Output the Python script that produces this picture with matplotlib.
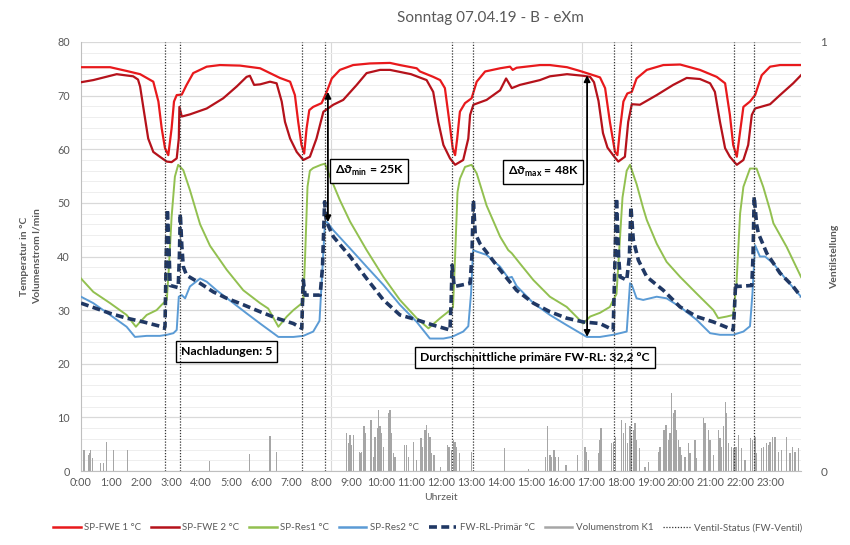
import matplotlib
matplotlib.use("Agg")
import matplotlib.pyplot as plt
from matplotlib.lines import Line2D
import numpy as np

plt.rcParams['font.family'] = ['Lato', 'DejaVu Sans']
plt.rcParams['mathtext.fontset'] = 'dejavusans'
plt.rcParams['mathtext.default'] = 'bf'

title = "Sonntag 07.04.19 - B - eXm"
hours = list(range(24))
hour_labels = [f"{h}:00" for h in hours]

fwe1_t = [0, 0.97, 1.52, 1.97, 2.41, 2.58, 2.69, 2.8, 2.91, 3.02, 3.1, 3.19, 3.36, 3.52, 3.74, 4.19, 4.63, 5.3, 5.97,
          6.3, 6.63, 6.97, 7.13, 7.24, 7.35, 7.44, 7.52, 7.61, 7.74, 8.02, 8.19, 8.36, 8.63, 9.07, 9.63, 10.3, 10.63,
          11.19, 11.3, 11.74, 11.97, 12.13, 12.28, 12.39, 12.47, 12.54, 12.63, 12.8, 13.02, 13.19, 13.47, 13.97, 14.3,
          14.39, 14.52, 15.3, 15.63, 16.2, 16.63, 16.97, 17.3, 17.47, 17.63, 17.8, 17.88, 17.97, 18.08, 18.21, 18.36,
          18.52, 18.86, 19.41, 19.97, 20.63, 21.19, 21.47, 21.63, 21.74, 21.86, 21.97, 22.08, 22.3, 22.47, 22.69,
          22.97, 23.3, 24.0]
fwe1_v = [75.3, 75.3, 74.6, 74.0, 72.6, 68.9, 63.9, 60.2, 58.9, 63.9, 68.9, 70.1, 70.2, 72.0, 74.2, 75.4, 75.7, 75.6, 75.1,
          74.2, 73.3, 72.6, 70.1, 65.1, 60.8, 59.2, 63.9, 67.3, 67.9, 68.6, 70.7, 73.2, 74.8, 75.7, 76.0, 76.1, 75.7,
          75.1, 74.5, 73.5, 72.9, 71.4, 65.1, 60.2, 58.9, 62.0, 67.0, 68.6, 69.5, 72.6, 74.5, 75.1, 75.4,
          74.8, 75.2, 75.7, 75.7, 75.3, 74.6, 74.0, 73.4, 71.4, 65.1, 59.5, 58.9, 63.9, 68.9, 70.4, 70.7,
          73.2, 74.8, 75.7, 75.8, 74.8, 73.5, 72.3, 66.4, 60.8, 58.6, 63.3, 67.9, 68.9, 70.1, 73.8,
          75.4, 75.7, 75.7]

fwe2_t = [0, 0.41, 1.19, 1.74, 1.9, 1.97, 2.1, 2.24, 2.41, 2.63, 2.86, 3.02, 3.19, 3.26, 3.28, 3.36, 3.63, 4.19, 4.74,
          5.19, 5.52, 5.63, 5.77, 5.97, 6.3, 6.52, 6.69, 6.8, 6.97, 7.19, 7.41, 7.63, 7.85, 8.08, 8.41, 8.74, 9.19,
          9.52, 9.97, 10.3, 11.0, 11.52, 11.74, 11.91, 12.08, 12.3, 12.47, 12.74, 12.91, 12.97, 13.08, 13.52, 13.97,
          14.17, 14.36, 14.63, 15.3, 15.63, 16.2, 16.74, 16.97, 17.1, 17.25, 17.4, 17.55, 17.75, 17.91, 18.13, 18.24,
          18.36, 18.63, 19.19, 19.74, 20.19, 20.63, 20.97, 21.13, 21.3, 21.47, 21.63, 21.86, 22.08, 22.24, 22.36,
          22.47, 22.97, 23.3, 23.74, 24.0]
fwe2_v = [72.5, 72.9, 74.0, 73.6, 73.0, 71.7, 67.0, 62.0, 59.5, 58.6, 57.7, 57.6, 58.3, 62.0, 67.9, 66.1, 66.5, 67.6, 69.5,
          71.7, 73.5, 73.7, 72.0, 72.1, 72.6, 72.3, 68.9, 65.1, 62.0, 59.5, 58.0, 58.6, 62.0, 67.0, 68.3, 69.2, 72.0,
          74.2, 74.8, 74.8, 74.0, 72.9, 70.7, 65.1, 60.8, 58.3, 57.1, 58.0, 62.0, 66.4, 68.3, 69.2, 71.0,
          73.2, 71.4, 72.0, 72.9, 73.6, 74.0, 73.7, 73.5, 72.5, 69.0, 63.0, 60.3, 58.8, 57.7, 58.6, 65.1,
          68.4, 68.3, 70.1, 72.0, 73.3, 73.1, 72.3, 70.7, 65.1, 60.2, 58.6, 57.1, 58.0, 60.8, 66.4,
          67.6, 68.4, 70.1, 72.3, 73.8]

res1_t = [0, 0.41, 0.97, 1.52, 1.83, 1.97, 2.19, 2.52, 2.69, 2.86, 2.93, 3.02, 3.13, 3.24, 3.41, 3.63, 3.97, 4.3, 4.86,
          5.41, 5.97, 6.24, 6.58, 6.86, 7.08, 7.3, 7.41, 7.47, 7.55, 7.63, 7.74, 8.0, 8.13, 8.3, 8.63, 8.97, 9.52,
          10.08, 10.63, 11.19, 11.58, 11.97, 12.24, 12.4, 12.47, 12.55, 12.63, 12.8, 13.02, 13.19, 13.52, 13.97,
          14.24, 14.36, 14.63, 15.08, 15.63, 16.19, 16.74, 16.97, 17.3, 17.63, 17.74, 17.85, 17.95, 18.05, 18.19,
          18.3, 18.52, 18.74, 18.86, 19.19, 19.52, 19.97, 20.52, 21.08, 21.24, 21.52, 21.74, 21.85, 21.97, 22.08,
          22.3, 22.52, 22.74, 22.97, 23.08, 23.52, 24.0]
res1_v = [35.9, 33.4, 31.3, 29.1, 26.9, 27.8, 29.1, 30.0, 31.0, 31.9, 38.0, 47.4, 54.9, 57.1, 56.1, 52.4, 46.0, 42.0, 37.5,
          33.7, 31.3, 30.3, 26.9, 28.8, 30.0, 31.0, 31.5, 40.0, 53.0, 56.0, 56.5, 57.1, 57.3, 54.9, 50.5, 46.5, 41.2,
          36.2, 31.9, 28.5, 26.6, 28.5, 29.7, 30.5, 40.0, 52.0, 54.5, 56.7, 57.1, 55.5, 49.5, 43.7,
          41.2, 40.6, 38.7, 35.6, 32.5, 30.6, 27.5, 28.8, 29.5, 30.6, 31.9, 33.0, 42.0, 51.0, 56.0,
          57.1, 53.5, 49.0, 46.8, 42.4, 39.0, 36.2, 33.1, 30.0, 28.5, 28.8, 29.1, 35.0, 48.0, 53.0,
          56.4, 56.4, 53.0, 48.6, 46.2, 41.8, 36.2]

res2_t = [0, 0.41, 0.97, 1.52, 1.8, 2.19, 2.63, 2.86, 3.08, 3.19, 3.26, 3.36, 3.47, 3.63, 3.97, 4.19, 4.52, 5.08, 5.52,
          5.97, 6.41, 6.58, 7.08, 7.41, 7.74, 7.95, 8.05, 8.13, 8.19, 8.41, 8.97, 9.52, 10.08, 10.63, 11.19, 11.63,
          12.08, 12.36, 12.74, 12.91, 13.0, 13.07, 13.2, 13.52, 13.97, 14.24, 14.36, 14.52, 15.08, 15.63, 16.19,
          16.86, 17.3, 17.74, 18.19, 18.3, 18.36, 18.52, 18.74, 19.19, 19.52, 19.97, 20.52, 20.97, 21.3, 21.74,
          22.08, 22.3, 22.38, 22.47, 22.63, 22.8, 23.08, 23.52, 24.0]
res2_v = [32.5, 31.3, 29.1, 26.9, 25.0, 25.2, 25.2, 25.4, 25.7, 26.3, 32.5, 32.8, 32.2, 34.4, 35.9, 35.3, 33.7, 31.3, 29.4,
          27.5, 25.7, 25.0, 25.0, 25.2, 26.0, 28.0, 38.0, 46.2, 46.5, 44.9, 41.5, 38.1, 34.7, 31.0, 27.8, 24.7,
          24.7, 25.0, 26.0, 27.0, 33.0, 41.2, 40.9, 40.3, 38.1, 36.0, 36.2, 34.5, 31.3, 29.1, 27.2,
          25.0, 25.0, 25.4, 26.0, 35.0, 34.7, 32.2, 31.9, 32.5, 32.2, 30.6, 28.2, 25.7, 25.4, 25.4,
          26.0, 27.0, 33.0, 42.1, 40.0, 40.0, 38.7, 35.6, 32.5]

fwrl_t = [0, 0.97, 1.52, 2.08, 2.63, 2.78, 2.8, 2.84, 2.88, 2.93, 2.97, 3.24, 3.28, 3.31, 3.36, 3.41, 3.52, 3.97, 4.41,
          4.86, 5.41, 5.97, 6.52, 7.08, 7.36, 7.39, 7.41, 7.47, 7.97, 8.05, 8.12, 8.17, 8.23, 8.41, 8.97, 9.52, 10.08,
          10.63, 11.19, 11.74, 12.3, 12.34, 12.37, 12.44, 12.97, 13.03, 13.08, 13.14, 13.3, 13.63, 13.97, 14.52,
          15.08, 15.63, 16.19, 16.74, 17.3, 17.74, 17.78, 17.85, 17.92, 17.97, 18.19, 18.28, 18.33, 18.41, 18.58,
          18.86, 19.41, 19.97, 20.52, 21.08, 21.74, 21.78, 21.82, 21.86, 22.36, 22.4, 22.44, 22.52, 22.58, 22.86,
          23.3, 23.74, 24.0]
fwrl_v = [31.3, 29.4, 28.5, 27.8, 27.0, 26.6, 27.0, 40.0, 48.8, 42.0, 34.6, 34.2, 40.0, 48.0, 42.0, 38.1, 36.5, 35.0, 33.4,
          32.2, 31.0, 29.7, 28.5, 27.5, 26.6, 33.0, 35.6, 32.8, 32.8, 38.0, 50.2, 47.0, 45.9, 43.7, 40.0, 35.9, 31.9,
          29.1, 28.2, 27.2, 26.3, 32.0, 38.4, 34.4, 35.0, 40.0, 50.5, 44.3, 42.4, 40.0, 37.5, 33.7,
          31.3, 29.7, 28.5, 27.8, 27.5, 26.3, 35.0, 50.9, 40.0, 36.2, 35.6, 40.0, 49.3, 43.1, 39.3,
          36.2, 33.7, 30.6, 28.8, 27.8, 26.3, 30.0, 35.0, 34.4, 34.6, 40.0, 51.2, 46.0, 44.3, 40.6,
          36.9, 34.4, 32.5]

vol_t = [0.10, 0.24, 0.28, 0.32, 0.39, 0.66, 0.74, 0.86, 1.08, 1.54, 4.28, 5.61, 6.30, 6.52, 8.86, 8.91, 8.97, 9.02,
         9.08, 9.28, 9.30, 9.36, 9.43, 9.47, 9.67, 9.74, 9.80, 9.88, 9.91, 9.97, 10.02, 10.08, 10.24, 10.30, 10.36,
         10.41, 10.47, 10.78, 10.86, 10.91, 11.08, 11.19, 11.33, 11.38, 11.47, 11.52, 11.58, 11.63, 11.69, 11.77,
         11.99, 12.22, 12.27, 12.36, 12.41, 12.47, 12.52, 12.61, 13.02, 14.11, 14.91, 15.49, 15.54, 15.63, 15.69,
         15.77, 15.81, 15.91, 16.17, 16.54, 16.80, 16.86, 16.91, 17.24, 17.28, 17.33, 17.68, 17.74, 17.82, 18.02,
         18.08, 18.16, 18.22, 18.30, 18.36, 18.41, 18.47, 18.52, 18.61, 18.80, 18.91, 19.24, 19.30, 19.43, 19.50,
         19.58, 19.63, 19.69, 19.74, 19.80, 19.86, 19.91, 19.97, 20.02, 20.13, 20.24, 20.30, 20.47, 20.52, 20.74,
         20.80, 20.91, 20.97, 21.08, 21.24, 21.30, 21.36, 21.41, 21.49, 21.52, 21.58, 21.69, 21.77, 21.83, 21.91,
         22.02, 22.13, 22.32, 22.39, 22.47, 22.52, 22.69, 22.74, 22.86, 22.91, 22.97, 23.06, 23.13, 23.24, 23.36,
         23.52, 23.63, 23.72, 23.80, 23.91]
vol_v = [3.9, 3.0, 3.3, 3.9, 2.5, 1.4, 1.4, 5.5, 3.9, 3.9, 1.9, 3.1, 6.5, 3.5, 7.0, 5.2, 6.7, 4.8,
         6.7, 3.6, 3.3, 3.6, 8.3, 7.0, 9.5, 2.7, 6.4, 8.0, 11.4, 8.3, 7.0, 4.5, 10.8, 11.4, 7.0,
         3.3, 2.7, 4.8, 4.8, 2.7, 5.5, 2.1, 6.1, 4.5, 7.6, 8.6, 7.0, 6.4, 3.3, 3.0,
         0.8, 4.8, 4.5, 3.9, 5.8, 5.5, 4.5, 3.3, 3.5, 4.2, 0.3, 2.7, 8.3, 3.0, 2.7,
         3.9, 2.7, 2.7, 1.1, 3.0, 4.5, 3.6, 2.1, 3.3, 5.8, 8.0, 5.2, 5.5, 6.4, 9.5,
         7.0, 8.9, 5.2, 8.3, 6.4, 7.6, 8.9, 5.8, 4.2, 0.8, 1.7, 3.6, 4.5, 7.6, 8.6,
         5.8, 7.0, 14.6, 10.8, 11.4, 7.6, 5.8, 4.5, 3.0, 2.7, 5.2, 3.3, 5.8, 2.4, 9.8,
         8.9, 7.6, 5.8, 3.0, 7.6, 6.1, 4.5, 8.3, 12.9, 10.8, 5.2, 4.5, 4.2, 4.5, 6.7,
         4.2, 2.1, 6.1, 5.8, 6.4, 3.3, 4.2, 4.5, 5.2, 4.8, 5.5, 6.4, 6.4, 3.6, 3.9,
         6.4, 3.3, 4.5, 3.6, 4.2]

valve_open = [2.79, 7.36, 12.36, 17.77, 21.77]
valve_close = [3.31, 8.15, 13.06, 18.33, 22.43]

GRAY = '#595959'
C_FWE1 = '#e8191c'
C_FWE2 = '#b5121b'
C_RES1 = '#92c050'
C_RES2 = '#5b9bd5'
C_FWRL = '#203864'
C_VOL = '#a6a6a6'

fig = plt.figure(figsize=(8.5, 5.45), dpi=100)
ax = fig.add_axes([81/850, 1-471/545, 720/850, 429/545])

ax.set_xlim(0, 24)
ax.set_ylim(0, 80)
ax.set_yticks(np.arange(0, 81, 10))
ax.set_yticks(np.arange(0, 81, 2), minor=True)
ax.grid(axis='y', which='major', color='#d9d9d9', lw=0.9, zorder=0)
ax.grid(axis='y', which='minor', color='#eeeeee', lw=0.7, zorder=0)
ax.set_axisbelow(True)
ax.set_xticks(hours)
ax.set_xticklabels(hour_labels)
ax.tick_params(axis='both', which='both', length=0, colors=GRAY, labelsize=7.8, pad=4)
ax.tick_params(axis='y', pad=8)
for s in ['top', 'right']:
    ax.spines[s].set_visible(False)
ax.spines['left'].set_color('#bfbfbf')
ax.spines['bottom'].set_color('#bfbfbf')

for xv in [8.33, 16.69]:
    ax.axvline(xv, color='#d9d9d9', lw=0.8, zorder=0.5)

ax.bar(vol_t, vol_v, width=0.045, color=C_VOL, zorder=2, linewidth=0)
ax.plot(fwe1_t, fwe1_v, color=C_FWE1, lw=1.6, zorder=3)
ax.plot(fwe2_t, fwe2_v, color=C_FWE2, lw=1.6, zorder=3)
ax.plot(res1_t, res1_v, color=C_RES1, lw=1.4, zorder=3)
ax.plot(res2_t, res2_v, color=C_RES2, lw=1.4, zorder=3)
ax.plot(fwrl_t, fwrl_v, color=C_FWRL, lw=2.6, dashes=(2.2, 1.2), zorder=4)

ax2 = ax.twinx()
ax2.set_ylim(0, 1)
ax2.set_yticks([0, 1])
ax2.tick_params(axis='y', length=0, colors=GRAY, labelsize=8.5, pad=14)
for s in ax2.spines.values():
    s.set_visible(False)
valve_times = sorted(valve_open + valve_close)
ax2.vlines(valve_times, 0, 1, colors='#333333', lw=0.9, linestyles=[(0, (1, 1.3))], zorder=5)
ax2.set_ylabel('Ventilstellung', color=GRAY, fontsize=7.5, fontweight='bold', labelpad=2)

ax.set_ylabel('Temperatur in °C\nVolumenstrom l/min', color=GRAY, fontsize=7.5, fontweight='bold', labelpad=11,
              linespacing=1.6)
ax.set_xlabel('Uhrzeit', color=GRAY, fontsize=7.5, labelpad=4)
fig.text(490/850, 1-18/545, title, ha='center', va='center', color=GRAY, fontsize=11)

arrow_kw = dict(arrowstyle='<|-|>', color='black', lw=1.3, mutation_scale=9, shrinkA=0, shrinkB=0)
ax.annotate('', xy=(8.23, 46.4), xytext=(8.23, 70.7), arrowprops=arrow_kw, zorder=6)
ax.annotate('', xy=(16.87, 25.0), xytext=(16.87, 73.8), arrowprops=arrow_kw, zorder=6)

box = dict(boxstyle='square,pad=0.4', fc='white', ec='black', lw=1.0)
fs = 8.8
ax.text(9.6, 56.0, r'Δϑ$_{\mathregular{min}}$ = 25K', ha='center', va='center', fontsize=fs, fontweight='bold',
        bbox=box, zorder=7)
ax.text(15.4, 55.8, r'Δϑ$_{\mathregular{max}}$ = 48K', ha='center', va='center', fontsize=fs, fontweight='bold',
        bbox=box, zorder=7)
ax.text(4.85, 22.3, 'Nachladungen: 5', ha='center', va='center', fontsize=fs, fontweight='bold', bbox=box, zorder=7)
ax.text(15.13, 21.2, 'Durchschnittliche primäre FW-RL: 32,2 °C', ha='center', va='center', fontsize=fs,
        fontweight='bold', bbox=box, zorder=7)

handles = [
    Line2D([], [], color=C_FWE1, lw=1.8),
    Line2D([], [], color=C_FWE2, lw=1.8),
    Line2D([], [], color=C_RES1, lw=1.8),
    Line2D([], [], color=C_RES2, lw=1.8),
    Line2D([], [], color=C_FWRL, lw=2.6, dashes=(2.2, 1.2)),
    Line2D([], [], color=C_VOL, lw=1.8),
    Line2D([], [], color='#333333', lw=0.9, ls=(0, (1, 1.3))),
]
labels = ['SP-FWE 1 °C', 'SP-FWE 2 °C', 'SP-Res1 °C', 'SP-Res2 °C', 'FW-RL-Primär °C', 'Volumenstrom K1',
          'Ventil-Status (FW-Ventil)']
leg = fig.legend(handles, labels, loc='center', bbox_to_anchor=(428/850, 1-528/545), ncol=7, frameon=False,
                 fontsize=7, handlelength=2.8, columnspacing=1.0, handletextpad=0.4, labelcolor=GRAY)

fig.savefig('out.png', dpi=100)
